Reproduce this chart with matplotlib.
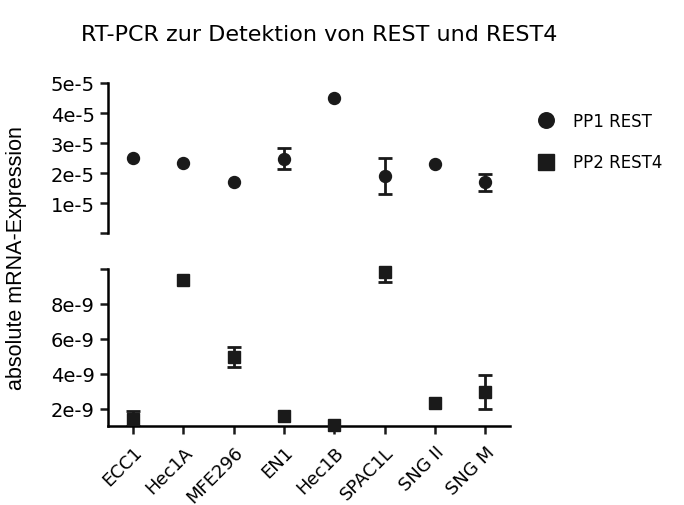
import matplotlib
matplotlib.use('Agg')
import matplotlib.pyplot as plt

cells = ['ECC1', 'Hec1A', 'MFE296', 'EN1', 'Hec1B', 'SPAC1L', 'SNG II', 'SNG M']

# PP1 REST (upper panel)
rest = [2.49e-5, 2.35e-5, 1.70e-5, 2.47e-5, 4.50e-5, 1.91e-5, 2.29e-5, 1.69e-5]
rest_err = [0, 0, 0, 0.35e-5, 0, 0.60e-5, 0, 0.28e-5]

# PP2 REST4 (lower panel)
rest4 = [1.43e-9, 9.39e-9, 4.96e-9, 1.60e-9, 1.07e-9, 9.81e-9, 2.33e-9, 2.93e-9]
rest4_err = [0.42e-9, 0, 0.58e-9, 0, 0, 0.57e-9, 0, 0.97e-9]

upper_ticks = [0, 1e-5, 2e-5, 3e-5, 4e-5, 5e-5]
upper_labels = ['', '1e-5', '2e-5', '3e-5', '4e-5', '5e-5']
lower_ticks = [2e-9, 4e-9, 6e-9, 8e-9, 1e-8]
lower_labels = ['2e-9', '4e-9', '6e-9', '8e-9', '']

plt.rcParams['font.family'] = 'DejaVu Sans'
col = '#1a1a1a'
lw = 1.8

fig = plt.figure(figsize=(6.84, 5.06), dpi=100)
ax1 = fig.add_axes([0.158, 0.5375, 0.588, 0.2965])
ax2 = fig.add_axes([0.158, 0.1561, 0.588, 0.3103])

x = list(range(len(cells)))


def bars(ax, vals, errs):
    # only points that actually have an SD get a whisker
    xs = [i for i in x if errs[i] > 0]
    ax.errorbar(xs, [vals[i] for i in xs], yerr=[errs[i] for i in xs],
                fmt='none', ecolor=col, capsize=5, capthick=2, elinewidth=2)


bars(ax1, rest, rest_err)
ax1.plot(x, rest, 'o', color=col, ms=8.6, zorder=5, label='PP1 REST')
bars(ax2, rest4, rest4_err)
ax2.plot(x, rest4, 's', color=col, ms=8.6, clip_on=False, zorder=5,
         label='PP2 REST4')

for ax in (ax1, ax2):
    ax.set_xlim(-0.5, 7.5)
    for s in ('top', 'right'):
        ax.spines[s].set_visible(False)
    ax.spines['left'].set_linewidth(lw)
    ax.spines['bottom'].set_linewidth(lw)
    ax.tick_params(width=lw, length=6, labelsize=14, color=col)

ax1.set_ylim(0, 5e-5)
ax1.set_yticks(upper_ticks)
ax1.set_yticklabels(upper_labels)
ax1.spines['bottom'].set_visible(False)
ax1.set_xticks([])

ax2.set_ylim(1e-9, 1e-8)
ax2.set_yticks(lower_ticks)
ax2.set_yticklabels(lower_labels)
ax2.set_xticks(x)
ax2.set_xticklabels(cells, rotation=45, ha='right', rotation_mode='anchor',
                    fontsize=13)
ax2.tick_params(axis='x', pad=6)

fig.text(0.024, 0.49, 'absolute mRNA-Expression', rotation=90,
         ha='center', va='center', fontsize=15.5, family='Liberation Sans')
fig.text(0.466, 0.93, 'RT-PCR zur Detektion von REST und REST4',
         ha='center', va='center', fontsize=16)

h1, l1 = ax1.get_legend_handles_labels()
h2, l2 = ax2.get_legend_handles_labels()
fig.legend(h1 + h2, l1 + l2, loc='upper left', bbox_to_anchor=(0.762, 0.806),
           frameon=False, fontsize=12, markerscale=1.3, handlelength=1.2,
           labelspacing=1.4, handletextpad=1.0)

fig.savefig('out.png', dpi=100)
